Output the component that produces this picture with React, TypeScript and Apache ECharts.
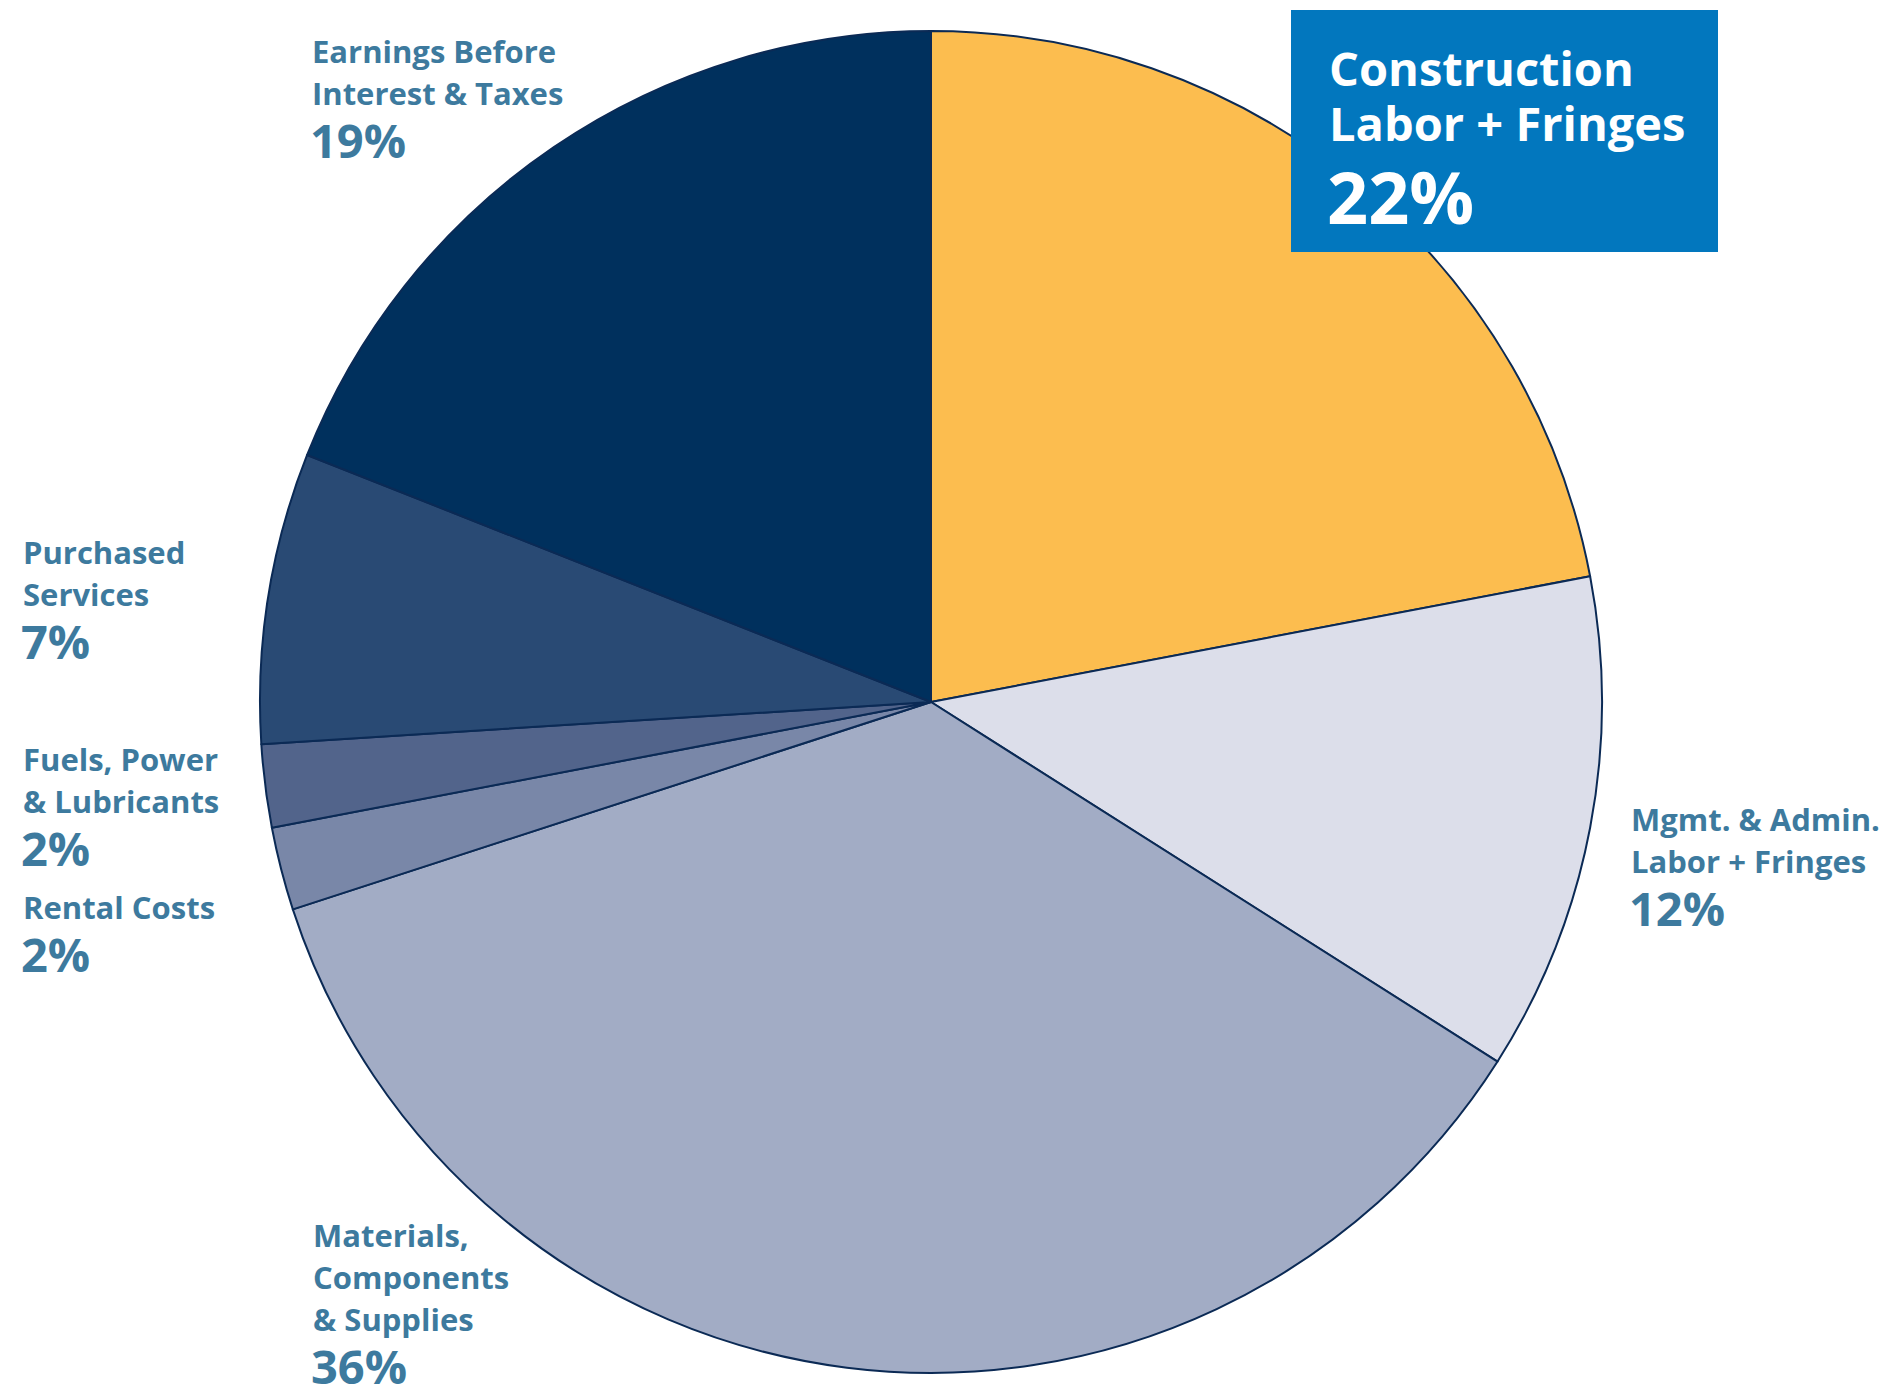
import React, { useEffect, useRef } from "react";
import * as echarts from "echarts";

const categories = [
  "Construction Labor + Fringes",
  "Mgmt. & Admin. Labor + Fringes",
  "Materials, Components & Supplies",
  "Rental Costs",
  "Fuels, Power & Lubricants",
  "Purchased Services",
  "Earnings Before Interest & Taxes",
];
const labelLines = [
  ["Construction", "Labor + Fringes"],
  ["Mgmt. & Admin.", "Labor + Fringes"],
  ["Materials,", "Components", "& Supplies"],
  ["Rental Costs"],
  ["Fuels, Power", "& Lubricants"],
  ["Purchased", "Services"],
  ["Earnings Before", "Interest & Taxes"],
];
const values = [22, 12, 36, 2, 2, 7, 19];
const colors = ["#FCBD4F", "#DCDEEA", "#A2ACC5", "#7987A8", "#52648B", "#294A74", "#00305D"];

// label layout: left x, first-line baseline
const labelPos = [
  { x: 1329, y: 85 },
  { x: 1631, y: 830 },
  { x: 313, y: 1246 },
  { x: 23, y: 918 },
  { x: 23, y: 770 },
  { x: 23, y: 563 },
  { x: 312, y: 62 },
];

const FONT = "'Open Sans', sans-serif";
const LABEL_COLOR = "#3D7A9E";

export default function App() {
  const ref = useRef<HTMLDivElement>(null);
  useEffect(() => {
    document.body.style.margin = "0";
    const chart = echarts.init(ref.current!, null, { renderer: "svg" });
    const graphics: any[] = [];
    // highlighted box for first category
    graphics.push({
      type: "rect",
      z: 10,
      shape: { x: 1291, y: 10, width: 427, height: 242 },
      style: { fill: "#0277BE" },
    });
    labelLines.forEach((lines, i) => {
      const p = labelPos[i];
      const big = i === 0;
      const fs = big ? 47 : 31;
      const pfs = big ? 72 : 47;
      const gap = big ? 55 : 42;
      const pgap = big ? 82 : 53;
      const color = big ? "#FFFFFF" : LABEL_COLOR;
      graphics.push({
        type: "text",
        z: 11,
        x: p.x,
        y: p.y - 0.36 * fs - gap / 2,
        style: {
          text: lines.join("\n"),
          fill: color,
          font: `bold ${fs}px ${FONT}`,
          lineHeight: gap,
          textAlign: "left",
          textVerticalAlign: "top",
        },
      });
      const pb = p.y + (lines.length - 1) * gap + pgap;
      graphics.push({
        type: "text",
        z: 11,
        x: p.x - 2,
        y: pb - 0.36 * pfs,
        style: {
          text: values[i] + "%",
          fill: color,
          font: `bold ${pfs}px ${FONT}`,
          textAlign: "left",
          textVerticalAlign: "middle",
        },
      });
    });
    chart.setOption({
      animation: false,
      backgroundColor: "#FFFFFF",
      series: [
        {
          type: "pie",
          center: [931, 702],
          radius: 671,
          startAngle: 90,
          clockwise: true,
          label: { show: false },
          labelLine: { show: false },
          emphasis: { disabled: true },
          itemStyle: { borderColor: "#0B2A55", borderWidth: 2 },
          data: categories.map((c, i) => ({
            name: c,
            value: values[i],
            itemStyle: { color: colors[i] },
          })),
        },
      ],
      graphic: graphics,
    });
    return () => chart.dispose();
  }, []);
  return <div ref={ref} style={{ width: 1900, height: 1387 }} />;
}
